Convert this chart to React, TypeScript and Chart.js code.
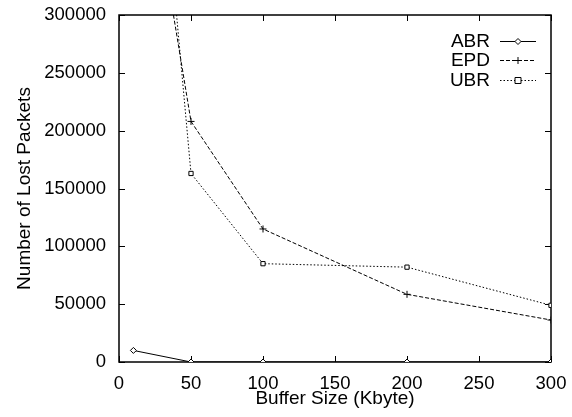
import React, { useEffect, useRef } from "react";
import { Chart, registerables } from "chart.js";

Chart.register(...registerables);

const bufferSizes = [10, 50, 100, 200, 300];
const abrLost = [10000, 0, 0, 0, 0];
const epdLost = [510000, 208000, 115000, 58500, 36300];
const ubrLost = [710000, 163000, 85000, 82000, 49000];
const seriesNames = ["ABR", "EPD", "UBR"];
const xTicks = [0, 50, 100, 150, 200, 250, 300];
const yTicks = [0, 50000, 100000, 150000, 200000, 250000, 300000];

const FONT = "Liberation Sans, Arial, Helvetica, sans-serif";

function drawMarker(ctx: CanvasRenderingContext2D, style: string, x: number, y: number, r: number) {
  ctx.save();
  ctx.setLineDash([]);
  ctx.lineWidth = 1;
  ctx.strokeStyle = "#000";
  ctx.fillStyle = "#fff";
  ctx.beginPath();
  if (style === "rectRot") {
    ctx.moveTo(x, y - r);
    ctx.lineTo(x + r, y);
    ctx.lineTo(x, y + r);
    ctx.lineTo(x - r, y);
    ctx.closePath();
    ctx.fill();
    ctx.stroke();
  } else if (style === "cross") {
    ctx.moveTo(x - r, y);
    ctx.lineTo(x + r, y);
    ctx.moveTo(x, y - r);
    ctx.lineTo(x, y + r);
    ctx.stroke();
  } else {
    ctx.rect(x - r, y - r, 2 * r, 2 * r);
    ctx.fill();
    ctx.stroke();
  }
  ctx.restore();
}

const framePlugin = {
  id: "gnuplotFrame",
  beforeDatasetsDraw(chart: any) {
    const { ctx, chartArea } = chart;
    const { left, right, top, bottom } = chartArea;
    ctx.save();
    ctx.strokeStyle = "#000";
    ctx.lineWidth = 1.5;
    ctx.strokeRect(left, top, right - left, bottom - top);
    ctx.lineWidth = 1;
    const xs = chart.scales.x;
    const ys = chart.scales.y;
    const tl = 6;
    ctx.beginPath();
    xTicks.forEach((v) => {
      const px = Math.round(xs.getPixelForValue(v)) + 0.5;
      ctx.moveTo(px, bottom);
      ctx.lineTo(px, bottom - tl);
      ctx.moveTo(px, top);
      ctx.lineTo(px, top + tl);
    });
    yTicks.forEach((v) => {
      const py = Math.round(ys.getPixelForValue(v)) + 0.5;
      ctx.moveTo(left, py);
      ctx.lineTo(left + tl, py);
      ctx.moveTo(right, py);
      ctx.lineTo(right - tl, py);
    });
    ctx.stroke();
    ctx.restore();
  },
  afterDraw(chart: any) {
    const { ctx, chartArea } = chart;
    const { right, top } = chartArea;
    ctx.save();
    ctx.font = `19px ${FONT}`;
    ctx.fillStyle = "#000";
    ctx.textAlign = "right";
    ctx.textBaseline = "middle";
    chart.data.datasets.forEach((ds: any, i: number) => {
      const y = top + 25.5 + i * 19.5;
      ctx.fillText(ds.label, right - 61, y + 1);
      ctx.strokeStyle = "#000";
      ctx.lineWidth = 1;
      ctx.setLineDash(ds.borderDash || []);
      ctx.beginPath();
      ctx.moveTo(right - 51, Math.round(y) + 0.5);
      ctx.lineTo(right - 15, Math.round(y) + 0.5);
      ctx.stroke();
      drawMarker(ctx, ds.pointStyle, right - 33, Math.round(y) + 0.5, ds.pointRadius);
    });
    ctx.restore();
  },
};

export default function App() {
  const ref = useRef<HTMLCanvasElement | null>(null);
  useEffect(() => {
    if (!ref.current) return;
    const mk = (vals: number[]) => bufferSizes.map((x, i) => ({ x, y: vals[i] }));
    const chart = new Chart(ref.current, {
      type: "line",
      data: {
        datasets: [
          {
            label: seriesNames[0],
            data: mk(abrLost),
            borderColor: "#000",
            borderWidth: 1,
            pointStyle: "rectRot",
            pointRadius: 3,
            pointBackgroundColor: "#fff",
            pointBorderColor: "#000",
            pointBorderWidth: 1,
            borderDash: [],
          },
          {
            label: seriesNames[1],
            data: mk(epdLost),
            borderColor: "#000",
            borderWidth: 1,
            borderDash: [4, 2],
            pointStyle: "cross",
            pointRadius: 3.5,
            pointBorderColor: "#000",
            pointBorderWidth: 1,
          },
          {
            label: seriesNames[2],
            data: mk(ubrLost),
            borderColor: "#000",
            borderWidth: 1,
            borderDash: [1.5, 2],
            pointStyle: "rect",
            pointRadius: 3,
            pointBackgroundColor: "#fff",
            pointBorderColor: "#000",
            pointBorderWidth: 1,
          },
        ] as any,
      },
      options: {
        animation: false,
        responsive: false,
        layout: { padding: { left: 0, right: 21, top: 15, bottom: 0 } },
        plugins: { legend: { display: false }, tooltip: { enabled: false } },
        elements: { line: { tension: 0 } },
        scales: {
          x: {
            type: "linear",
            min: 0,
            max: 300,
            afterFit: (s: any) => {
              s.height = 55;
              s.paddingLeft = 0;
              s.paddingRight = 0;
              s.paddingTop = 0;
              s.paddingBottom = 0;
            },
            afterBuildTicks: (s: any) => {
              s.ticks = xTicks.map((v) => ({ value: v }));
            },
            grid: { display: false, drawTicks: false },
            border: { display: false },
            ticks: {
              padding: 11,
              color: "#000",
              font: { family: FONT, size: 18.5 },
              maxRotation: 0,
              callback: (v: any) => String(v),
            },
            title: {
              display: true,
              text: "Buffer Size (Kbyte)",
              color: "#000",
              font: { family: FONT, size: 19 },
              padding: { top: 0, bottom: 6.5 },
            },
          },
          y: {
            type: "linear",
            min: 0,
            max: 300000,
            afterFit: (s: any) => {
              s.width = 119;
              s.paddingLeft = 0;
              s.paddingRight = 0;
              s.paddingTop = 0;
              s.paddingBottom = 0;
            },
            afterBuildTicks: (s: any) => {
              s.ticks = yTicks.map((v) => ({ value: v }));
            },
            grid: { display: false, drawTicks: false },
            border: { display: false },
            ticks: {
              padding: 13,
              color: "#000",
              font: { family: FONT, size: 18.5 },
              callback: (v: any) => String(v),
            },
            title: {
              display: true,
              text: "Number of Lost Packets",
              color: "#000",
              font: { family: FONT, size: 19 },
              padding: { top: 13.5, bottom: 0 },
            },
          },
        },
      },
      plugins: [framePlugin],
    });
    return () => chart.destroy();
  }, []);
  return (
    <div style={{ position: "fixed", left: 0, top: 0, width: 572, height: 417, background: "#fff" }}>
      <canvas ref={ref} width={572} height={417} />
    </div>
  );
}
